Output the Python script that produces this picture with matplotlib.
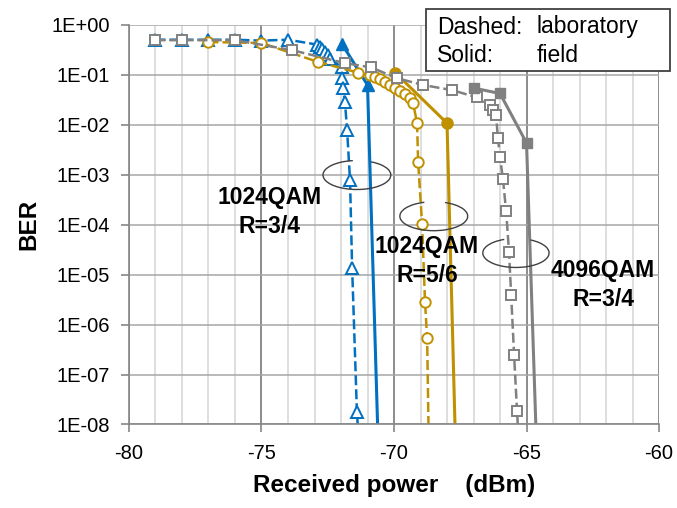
import matplotlib
matplotlib.use("Agg")
import matplotlib.pyplot as plt
from matplotlib.patches import Arc, Rectangle

plt.rcParams['font.family'] = ['Liberation Sans', 'DejaVu Sans']
plt.rcParams['axes.unicode_minus'] = False

# laboratory (dashed, open markers)
blue_lab_x = [-79, -78, -77, -76, -75, -74, -72.9, -72.8, -72.7, -72.6, -72.5, -72.4,
              -71.98, -71.96, -71.93, -71.85, -71.77, -71.66, -71.58, -71.4, -71.37]
blue_lab_y = [0.5, 0.5, 0.5, 0.5, 0.48, 0.5, 0.4, 0.36, 0.32, 0.28, 0.25, 0.21,
              0.14, 0.085, 0.054, 0.028, 7.8e-3, 7.8e-4, 1.35e-5, 1.8e-8, 1e-8]
gold_lab_x = [-77, -75, -72.87, -71.36, -70.91, -70.72, -70.53, -70.34, -70.15, -69.96,
              -69.77, -69.58, -69.4, -69.28, -69.13, -69.09, -68.94, -68.83, -68.75, -68.7]
gold_lab_y = [0.45, 0.43, 0.18, 0.11, 0.098, 0.089, 0.081, 0.071, 0.062, 0.054,
              0.047, 0.041, 0.034, 0.027, 0.0107, 1.78e-3, 1.02e-4, 2.8e-6, 5.4e-7, 1e-8]
gray_lab_x = [-79, -78, -76, -73.85, -71.85, -70.87, -69.89, -68.9, -67.8, -66.87, -66.38,
              -66.26, -66.15, -66.08, -66.0, -65.89, -65.77, -65.66, -65.58, -65.47, -65.36, -65.33]
gray_lab_y = [0.49, 0.49, 0.49, 0.31, 0.17, 0.14, 0.085, 0.062, 0.049, 0.035, 0.0245,
              0.0195, 0.0155, 5.4e-3, 2.24e-3, 8.1e-4, 1.86e-4, 2.8e-5, 3.9e-6, 2.5e-7, 1.9e-8, 1e-8]

# field (solid, filled markers)
blue_field_x = [-71.96, -71.0, -70.62]
blue_field_y = [0.41, 0.062, 1e-8]
gold_field_x = [-69.96, -68.0, -67.7]
gold_field_y = [0.11, 0.0107, 1e-8]
gray_field_x = [-67.0, -66.0, -65.0, -64.65]
gray_field_y = [0.054, 0.042, 4.3e-3, 1e-8]

ytick_vals = [1e0, 1e-1, 1e-2, 1e-3, 1e-4, 1e-5, 1e-6, 1e-7, 1e-8]
ytick_labels = ['1E+00', '1E-01', '1E-02', '1E-03', '1E-04', '1E-05', '1E-06', '1E-07', '1E-08']
xtick_vals = [-80, -75, -70, -65, -60]

BLUE = '#0070C0'
GOLD = '#BF9000'
GRAY = '#808080'

fig = plt.figure(figsize=(6.77, 5.08), dpi=100)
ax = fig.add_axes([0.1905, 0.1644, 0.783, 0.787])
ax.set_yscale('log')
ax.set_xlim(-80, -60)
ax.set_ylim(1e-8, 1)

# grid
ax.set_xticks(xtick_vals)
ax.set_xticks(range(-80, -59), minor=True)
ax.set_yticks(ytick_vals)
ax.set_yticklabels(ytick_labels)
ax.yaxis.set_minor_locator(matplotlib.ticker.NullLocator())
ax.grid(which='minor', axis='x', color='#d4d4d4', lw=1.1)
ax.grid(which='major', axis='x', color='#8c8c8c', lw=1.4)
ax.grid(which='major', axis='y', color='#a6a6a6', lw=1.1)
ax.set_axisbelow(True)

dash = (0, (4, 1.6))
lab_kw = dict(ls=dash, lw=1.8, mfc='white', mew=1.4)
field_kw = dict(ls='-', lw=2.2)

def skip_last(xs):
    return list(range(len(xs) - 1))

ax.plot(blue_lab_x, blue_lab_y, color=BLUE, marker='^', ms=8.5,
        markevery=skip_last(blue_lab_x), **lab_kw)
ax.plot(blue_field_x, blue_field_y, color=BLUE, marker='^', ms=9,
        markevery=skip_last(blue_field_x), **field_kw)
ax.plot(gold_lab_x, gold_lab_y, color=GOLD, marker='o', ms=7.5,
        markevery=skip_last(gold_lab_x), **lab_kw)
ax.plot(gold_field_x, gold_field_y, color=GOLD, marker='o', ms=8,
        markevery=skip_last(gold_field_x), **field_kw)
ax.plot(gray_lab_x, gray_lab_y, color=GRAY, marker='s', ms=7.5,
        markevery=skip_last(gray_lab_x), **lab_kw)
ax.plot(gray_field_x, gray_field_y, color=GRAY, marker='s', ms=7,
        markevery=skip_last(gray_field_x), **field_kw)

# spines / ticks
for s in ['top', 'right']:
    ax.spines[s].set_visible(False)
for s in ['left', 'bottom']:
    ax.spines[s].set_color('#868686')
    ax.spines[s].set_linewidth(1.2)
ax.tick_params(which='major', color='#868686', length=6, width=1.2,
               labelsize=14.5, pad=8)
ax.tick_params(which='minor', length=0)

ax.set_ylabel('BER', fontsize=17.5, fontweight='bold', labelpad=8)
ax.set_xlabel('Received power    (dBm)', fontsize=17.5, fontweight='bold', labelpad=8)

# ring marks around the curve groups (axes fraction)
rings = [(0.430, 0.624, 0.128, 0.0725, 102, 411),
         (0.575, 0.521, 0.128, 0.0725, 117, 418),
         (0.730, 0.429, 0.125, 0.0725, 123, 410)]
for cx, cy, w, h, t1, t2 in rings:
    ax.add_patch(Arc((cx, cy), w, h, theta1=t1, theta2=t2, transform=ax.transAxes,
                     color='#404040', lw=1.0, zorder=5))

txt_kw = dict(ha='center', va='center', fontsize=16.5, fontweight='bold',
              linespacing=1.3, transform=ax.transAxes, zorder=6)
ax.text((270 - 129) / 530, (424.5 - 212) / 400, '1024QAM\nR=3/4', **txt_kw)
ax.text((427 - 129) / 530, (424.5 - 261) / 400, '1024QAM\nR=5/6', **txt_kw)
ax.text((603 - 129) / 530, (424.5 - 285) / 400, '4096QAM\nR=3/4', **txt_kw)

# note box
box = Rectangle((426 / 677, 1 - 71 / 508), 244 / 677, 62 / 508, transform=fig.transFigure,
                facecolor='white', edgecolor='#404040', lw=1.3, zorder=10)
fig.add_artist(box)
for y, a, b in [(27, 'Dashed:', 'laboratory'), (56, 'Solid:', 'field')]:
    fig.text(437 / 677, 1 - y / 508, a, fontsize=16.5, va='center', zorder=11)
    fig.text(537 / 677, 1 - y / 508, b, fontsize=16.5, va='center', zorder=11)

fig.savefig('out.png', dpi=100)
